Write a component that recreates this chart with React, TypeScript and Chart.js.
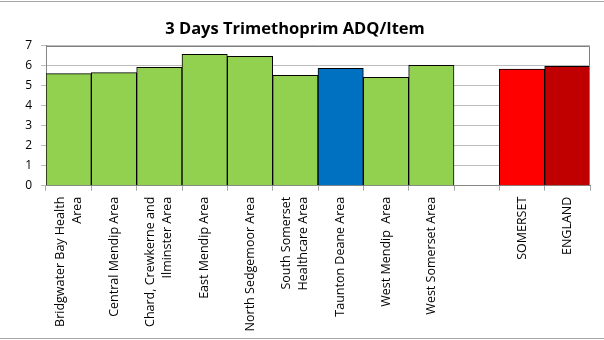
import React, { useEffect, useRef } from "react";
import { Chart, registerables } from "chart.js";

Chart.register(...registerables);

const TITLE = "3 Days Trimethoprim ADQ/Item";

const categories: (string | string[])[] = [
  ["Bridgwater Bay Health", "Area"],
  "Central Mendip Area",
  ["Chard, Crewkerne and", "Ilminster Area"],
  "East Mendip Area",
  "North Sedgemoor Area",
  ["South Somerset", "Healthcare Area"],
  "Taunton Deane Area",
  "West Mendip  Area",
  "West Somerset Area",
  "",
  "SOMERSET",
  "ENGLAND",
];

const values: (number | null)[] = [5.6, 5.65, 5.92, 6.57, 6.47, 5.52, 5.87, 5.42, 6.02, null, 5.83, 5.97];

const GREEN = "#92D050";
const BLUE = "#0070C0";
const RED = "#FF0000";
const DARK_RED = "#C00000";

const barColors: string[] = [GREEN, GREEN, GREEN, GREEN, GREEN, GREEN, BLUE, GREEN, GREEN, GREEN, RED, DARK_RED];

const yTicks = { min: 0, max: 7, step: 1 };

const FONT = "'Open Sans', Lato, sans-serif";
const LABEL_SIZE = 12.5;
const LABEL_LINE = 17;

const framePlugin = {
  id: "frame",
  beforeDraw(chart: any) {
    const { ctx, width, height } = chart;
    ctx.save();
    ctx.fillStyle = "#ffffff";
    ctx.fillRect(0, 0, width, height);
    ctx.strokeStyle = "#a6a6a6";
    ctx.lineWidth = 1;
    ctx.beginPath();
    ctx.moveTo(0, 1.5);
    ctx.lineTo(width, 1.5);
    ctx.moveTo(0, height - 1.5);
    ctx.lineTo(width, height - 1.5);
    ctx.stroke();
    ctx.restore();
  },
  afterDatasetsDraw(chart: any) {
    const { ctx, chartArea } = chart;
    ctx.save();
    ctx.strokeStyle = "#7f7f7f";
    ctx.lineWidth = 1;
    ctx.beginPath();
    ctx.moveTo(Math.round(chartArea.left) + 0.5, Math.round(chartArea.top) + 0.5);
    ctx.lineTo(Math.round(chartArea.right) - 0.5, Math.round(chartArea.top) + 0.5);
    ctx.lineTo(Math.round(chartArea.right) - 0.5, Math.round(chartArea.bottom));
    ctx.stroke();
    ctx.restore();
  },
  afterDraw(chart: any) {
    const { ctx } = chart;
    const xs = chart.scales.x;
    const labels = chart.data.labels as (string | string[])[];
    ctx.save();
    ctx.fillStyle = "#000000";
    ctx.font = `${LABEL_SIZE}px ${FONT}`;
    ctx.textAlign = "right";
    ctx.textBaseline = "middle";
    const y = xs.top + 5 + 6;
    labels.forEach((lab, i) => {
      const lines = Array.isArray(lab) ? lab : [lab];
      const x = xs.getPixelForTick(i);
      ctx.save();
      ctx.translate(x, y);
      ctx.rotate(-Math.PI / 2);
      lines.forEach((line, j) => {
        const off = (j - (lines.length - 1) / 2) * LABEL_LINE;
        ctx.fillText(line, 0, off);
      });
      ctx.restore();
    });
    ctx.restore();
  },
};

export default function App() {
  const ref = useRef<HTMLCanvasElement | null>(null);

  useEffect(() => {
    if (!ref.current) return;
    const chart = new Chart(ref.current, {
      type: "bar",
      data: {
        labels: categories,
        datasets: [
          {
            data: values,
            backgroundColor: barColors,
            borderColor: "#000000",
            borderWidth: 1,
            barPercentage: 1,
            categoryPercentage: 1,
          },
        ],
      },
      options: {
        responsive: false,
        animation: false,
        devicePixelRatio: 1,
        layout: { padding: { left: 0, right: 14, top: 0, bottom: 0 } },
        plugins: {
          legend: { display: false },
          tooltip: { enabled: false },
          title: {
            display: true,
            text: TITLE,
            color: "#000000",
            font: { family: FONT, size: 16.5, weight: "bold" },
            padding: { top: 19, bottom: 6.9 },
          },
        },
        scales: {
          x: {
            grid: {
              drawOnChartArea: false,
              drawTicks: true,
              tickLength: 5,
              color: "#a6a6a6",
            },
            border: { color: "#868686", width: 1 },
            ticks: {
              display: false,
              autoSkip: false,
            },
            afterFit(scale: any) {
              scale.height = 154.3;
            },
          },
          y: {
            min: yTicks.min,
            max: yTicks.max,
            grid: {
              color: "#bdbdbd",
              drawTicks: true,
              tickLength: 5,
            },
            border: { color: "#868686", width: 1 },
            ticks: {
              stepSize: yTicks.step,
              padding: 9,
              color: "#000000",
              font: { family: FONT, size: 12 },
            },
            afterFit(scale: any) {
              scale.width = 46;
            },
          },
        },
      },
      plugins: [framePlugin],
    });
    return () => chart.destroy();
  }, []);

  return (
    <div style={{ position: "absolute", left: 0, top: 0, width: 604, height: 340 }}>
      <canvas ref={ref} width={604} height={340} />
    </div>
  );
}
